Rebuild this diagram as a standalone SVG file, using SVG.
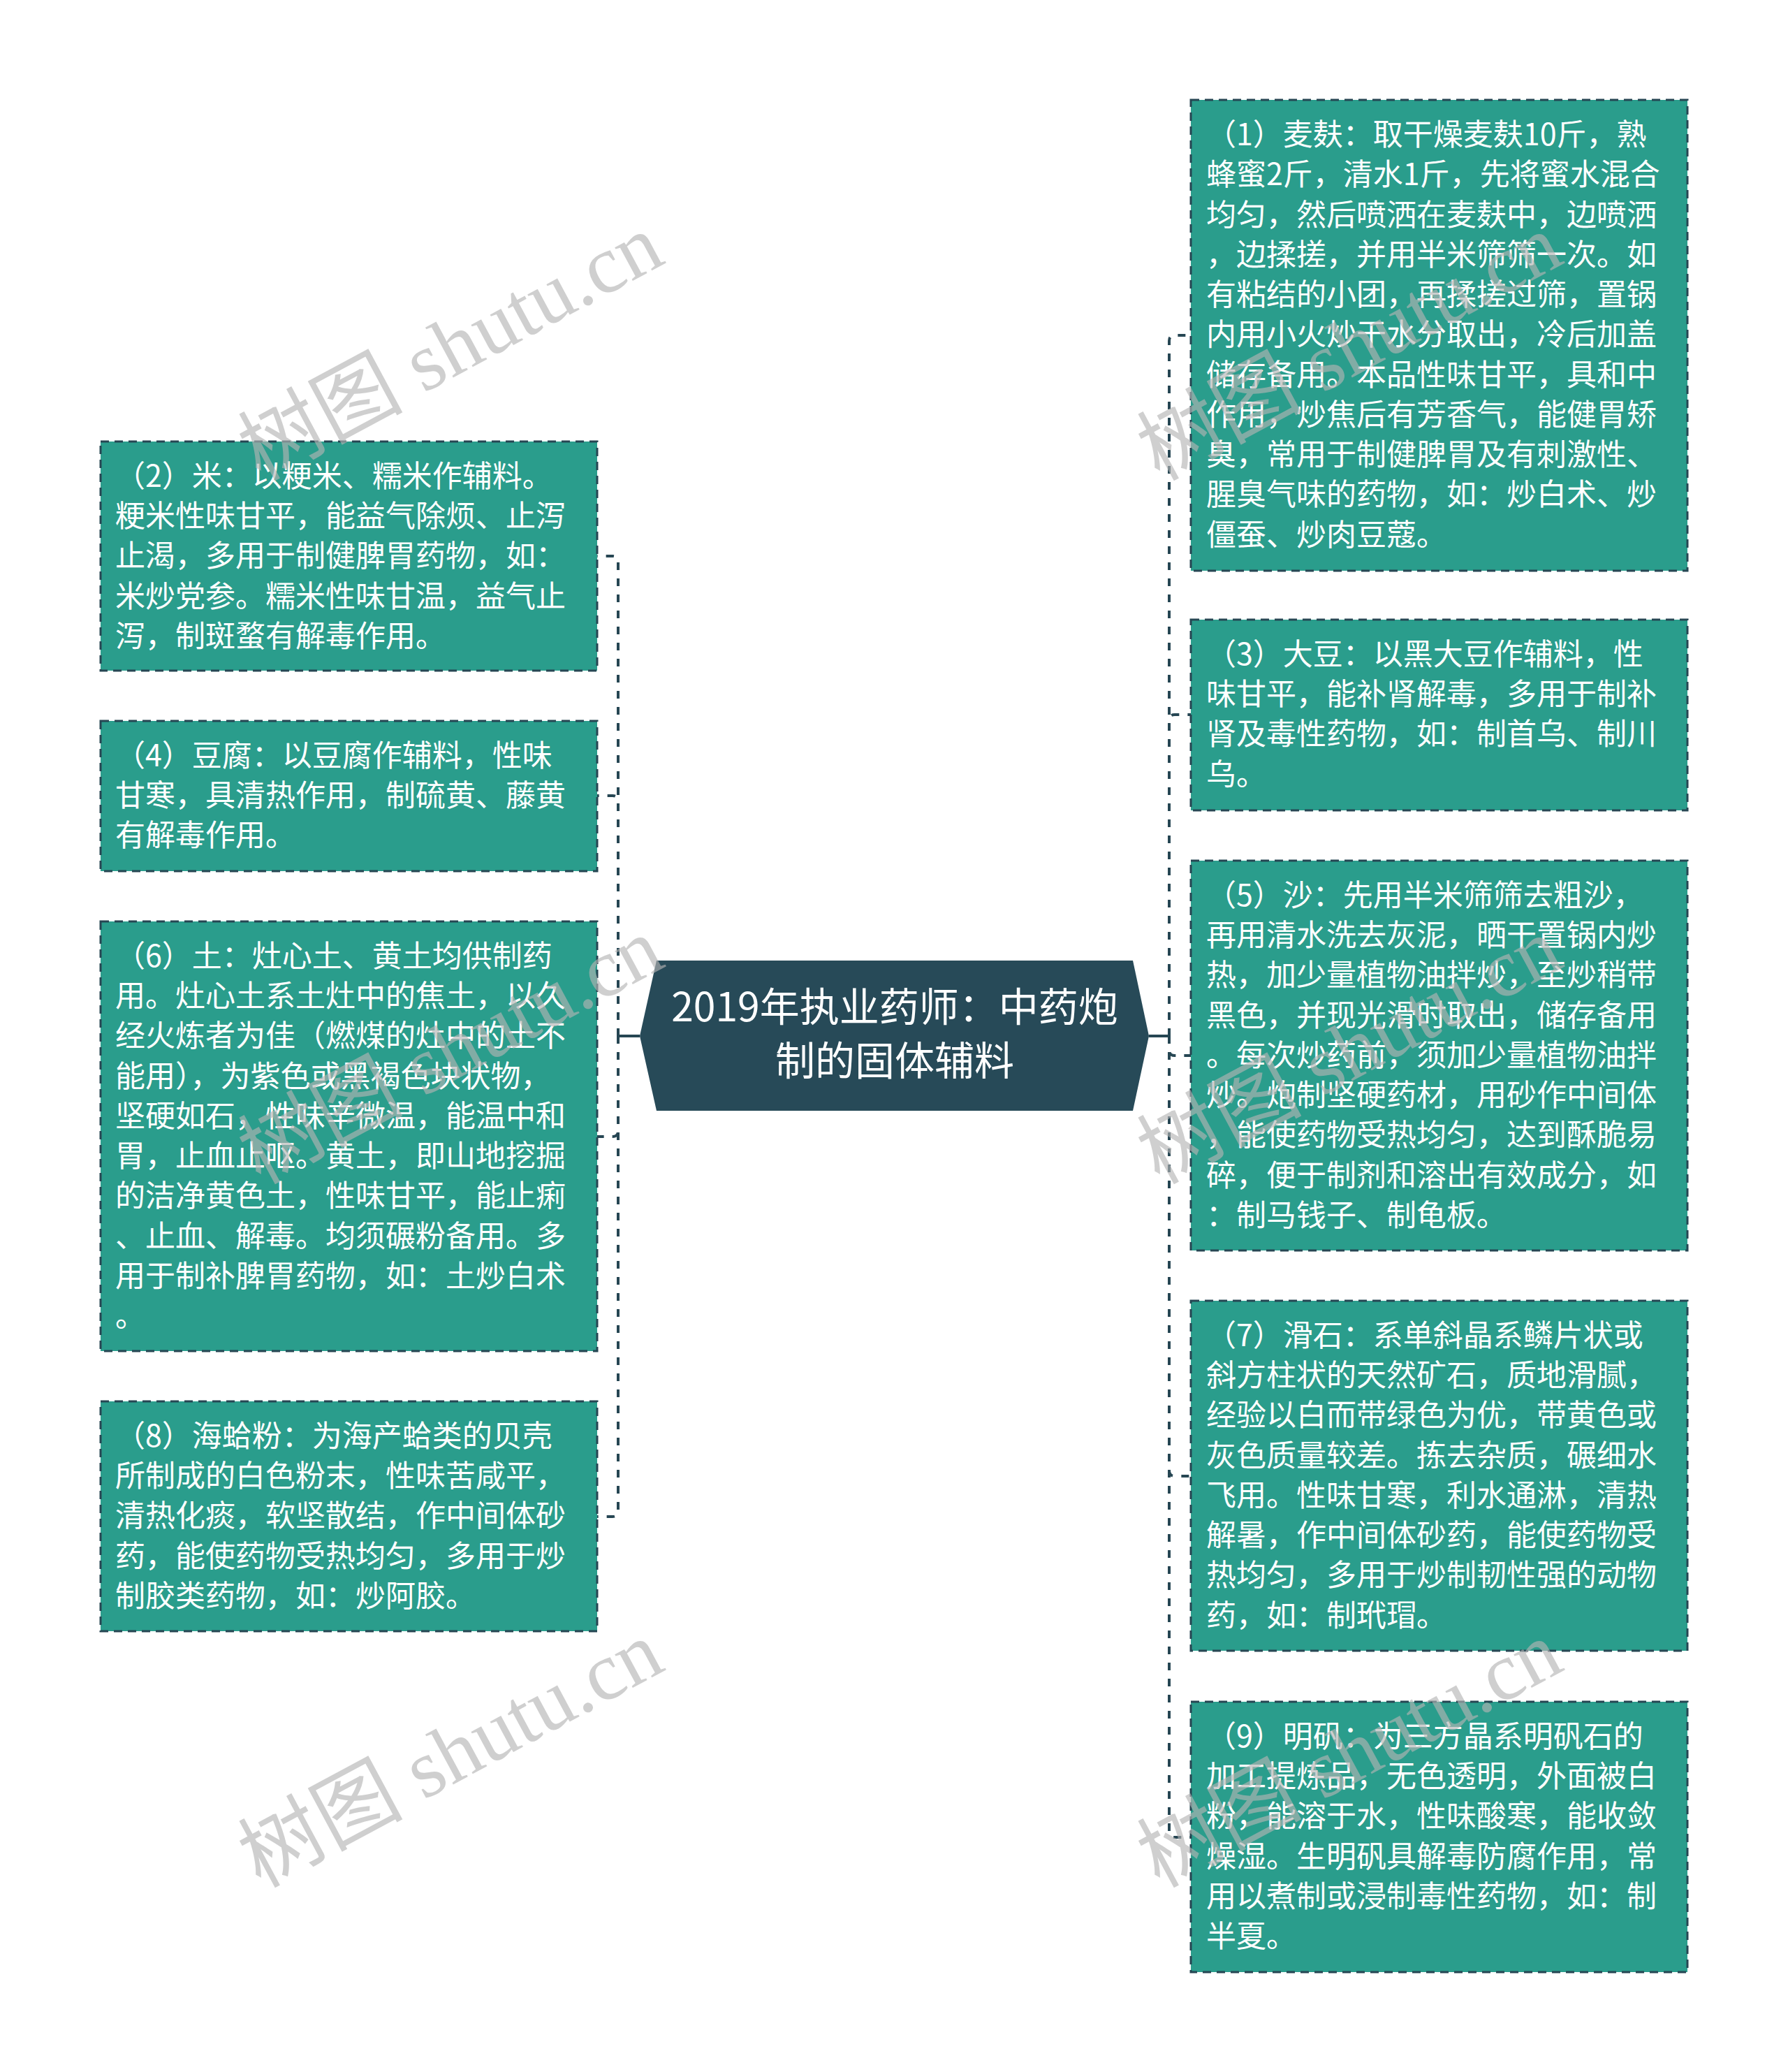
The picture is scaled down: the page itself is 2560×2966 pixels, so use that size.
<svg xmlns="http://www.w3.org/2000/svg" width="2560" height="2966" viewBox="0 0 2560 2966">
<style>
.box{fill:#2a9d8c;stroke:#264653;stroke-width:3;stroke-dasharray:12 8}
.t{font-family:"Noto Sans CJK SC","Noto Sans",sans-serif;font-size:43px;fill:#ffffff}
.ct{font-family:"Noto Sans CJK SC","Noto Sans",sans-serif;font-size:57px;fill:#ffffff;text-anchor:middle}
.ln{fill:none;stroke:#264653;stroke-width:4;stroke-dasharray:11 12}
.sl{fill:none;stroke:#264653;stroke-width:4}
.wm{font-family:"Liberation Serif","Noto Sans CJK SC",serif;font-size:118px;fill:#b4b4b4;fill-opacity:0.64;text-anchor:middle}
</style>
<rect width="2560" height="2966" fill="#ffffff"/>
<g id="connectors">
<path class="sl" d="M916 1483H885M1645 1483H1674"/>
<path class="ln" d="M885 1483V804Q885 796 877 796H855"/>
<path class="ln" d="M885 1483V1147Q885 1139 877 1139H855"/>
<path class="ln" d="M885 1483V1619Q885 1627 877 1627H855"/>
<path class="ln" d="M885 1483V2163Q885 2171 877 2171H855"/>
<path class="ln" d="M1674 1483V488Q1674 480 1682 480H1705"/>
<path class="ln" d="M1674 1483V1031Q1674 1023 1682 1023H1705"/>
<path class="ln" d="M1674 1483V1503Q1674 1511 1682 1511H1705"/>
<path class="ln" d="M1674 1483V2105Q1674 2113 1682 2113H1705"/>
<path class="ln" d="M1674 1483V2622Q1674 2630 1682 2630H1705"/>
</g>
<g id="center">
<polygon points="916,1483 940,1375 1622,1375 1645,1483 1622,1590 940,1590" fill="#274a58"/>
<text class="ct" x="1281" y="1462">2019年执业药师：中药炮</text>
<text class="ct" x="1281" y="1539">制的固体辅料</text>
</g>
<g id="n2">
<rect class="box" x="144" y="632" width="711" height="328"/>
<text class="t" x="165"><tspan x="165" y="697">（2）米：以粳米、糯米作辅料。</tspan><tspan x="165" y="754">粳米性味甘平，能益气除烦、止泻</tspan><tspan x="165" y="811">止渴，多用于制健脾胃药物，如：</tspan><tspan x="165" y="869">米炒党参。糯米性味甘温，益气止</tspan><tspan x="165" y="926">泻，制斑蝥有解毒作用。</tspan></text>
</g>
<g id="n4">
<rect class="box" x="144" y="1032" width="711" height="215"/>
<text class="t"><tspan x="165" y="1097">（4）豆腐：以豆腐作辅料，性味</tspan><tspan x="165" y="1154">甘寒，具清热作用，制硫黄、藤黄</tspan><tspan x="165" y="1211">有解毒作用。</tspan></text>
</g>
<g id="n6">
<rect class="box" x="144" y="1319" width="711" height="615"/>
<text class="t"><tspan x="165" y="1384">（6）土：灶心土、黄土均供制药</tspan><tspan x="165" y="1441">用。灶心土系土灶中的焦土，以久</tspan><tspan x="165" y="1498">经火炼者为佳（燃煤的灶中的土不</tspan><tspan x="165" y="1556">能用），为紫色或黑褐色块状物，</tspan><tspan x="165" y="1613">坚硬如石，性味辛微温，能温中和</tspan><tspan x="165" y="1670">胃，止血止呕。黄土，即山地挖掘</tspan><tspan x="165" y="1727">的洁净黄色土，性味甘平，能止痢</tspan><tspan x="165" y="1785">、止血、解毒。均须碾粉备用。多</tspan><tspan x="165" y="1842">用于制补脾胃药物，如：土炒白术</tspan><tspan x="165" y="1899">。</tspan></text>
</g>
<g id="n8">
<rect class="box" x="144" y="2006" width="711" height="329"/>
<text class="t"><tspan x="165" y="2071">（8）海蛤粉：为海产蛤类的贝壳</tspan><tspan x="165" y="2128">所制成的白色粉末，性味苦咸平，</tspan><tspan x="165" y="2185">清热化痰，软坚散结，作中间体砂</tspan><tspan x="165" y="2243">药，能使药物受热均匀，多用于炒</tspan><tspan x="165" y="2300">制胶类药物，如：炒阿胶。</tspan></text>
</g>
<g id="n1">
<rect class="box" x="1705" y="143" width="711" height="674"/>
<text class="t"><tspan x="1727" y="208">（1）麦麸：取干燥麦麸10斤，熟</tspan><tspan x="1727" y="265">蜂蜜2斤，清水1斤，先将蜜水混合</tspan><tspan x="1727" y="323">均匀，然后喷洒在麦麸中，边喷洒</tspan><tspan x="1727" y="380">，边揉搓，并用半米筛筛一次。如</tspan><tspan x="1727" y="437">有粘结的小团，再揉搓过筛，置锅</tspan><tspan x="1727" y="494">内用小火炒干水分取出，冷后加盖</tspan><tspan x="1727" y="552">储存备用。本品性味甘平，具和中</tspan><tspan x="1727" y="609">作用，炒焦后有芳香气，能健胃矫</tspan><tspan x="1727" y="666">臭，常用于制健脾胃及有刺激性、</tspan><tspan x="1727" y="723">腥臭气味的药物，如：炒白术、炒</tspan><tspan x="1727" y="781">僵蚕、炒肉豆蔻。</tspan></text>
</g>
<g id="n3">
<rect class="box" x="1705" y="887" width="711" height="273"/>
<text class="t"><tspan x="1727" y="952">（3）大豆：以黑大豆作辅料，性</tspan><tspan x="1727" y="1009">味甘平，能补肾解毒，多用于制补</tspan><tspan x="1727" y="1066">肾及毒性药物，如：制首乌、制川</tspan><tspan x="1727" y="1124">乌。</tspan></text>
</g>
<g id="n5">
<rect class="box" x="1705" y="1232" width="711" height="558"/>
<text class="t"><tspan x="1727" y="1297">（5）沙：先用半米筛筛去粗沙，</tspan><tspan x="1727" y="1354">再用清水洗去灰泥，晒干置锅内炒</tspan><tspan x="1727" y="1411">热，加少量植物油拌炒，至炒稍带</tspan><tspan x="1727" y="1469">黑色，并现光滑时取出，储存备用</tspan><tspan x="1727" y="1526">。每次炒药前，须加少量植物油拌</tspan><tspan x="1727" y="1583">炒。炮制坚硬药材，用砂作中间体</tspan><tspan x="1727" y="1640">，能使药物受热均匀，达到酥脆易</tspan><tspan x="1727" y="1698">碎，便于制剂和溶出有效成分，如</tspan><tspan x="1727" y="1755">：制马钱子、制龟板。</tspan></text>
</g>
<g id="n7">
<rect class="box" x="1705" y="1862" width="711" height="501"/>
<text class="t"><tspan x="1727" y="1927">（7）滑石：系单斜晶系鳞片状或</tspan><tspan x="1727" y="1984">斜方柱状的天然矿石，质地滑腻，</tspan><tspan x="1727" y="2041">经验以白而带绿色为优，带黄色或</tspan><tspan x="1727" y="2099">灰色质量较差。拣去杂质，碾细水</tspan><tspan x="1727" y="2156">飞用。性味甘寒，利水通淋，清热</tspan><tspan x="1727" y="2213">解暑，作中间体砂药，能使药物受</tspan><tspan x="1727" y="2270">热均匀，多用于炒制韧性强的动物</tspan><tspan x="1727" y="2328">药，如：制玳瑁。</tspan></text>
</g>
<g id="n9">
<rect class="box" x="1705" y="2436" width="711" height="387"/>
<text class="t"><tspan x="1727" y="2501">（9）明矾：为三方晶系明矾石的</tspan><tspan x="1727" y="2558">加工提炼品，无色透明，外面被白</tspan><tspan x="1727" y="2615">粉，能溶于水，性味酸寒，能收敛</tspan><tspan x="1727" y="2673">燥湿。生明矾具解毒防腐作用，常</tspan><tspan x="1727" y="2730">用以煮制或浸制毒性药物，如：制</tspan><tspan x="1727" y="2787">半夏。</tspan></text>
</g>
<g id="watermarks">
<text class="wm" x="645" y="537" transform="rotate(-28.3 645 497)">树图 shutu.cn</text>
<text class="wm" x="645" y="1544" transform="rotate(-28.3 645 1504)">树图 shutu.cn</text>
<text class="wm" x="645" y="2551" transform="rotate(-28.3 645 2511)">树图 shutu.cn</text>
<text class="wm" x="1932" y="537" transform="rotate(-28.3 1932 497)">树图 shutu.cn</text>
<text class="wm" x="1932" y="1544" transform="rotate(-28.3 1932 1504)">树图 shutu.cn</text>
<text class="wm" x="1932" y="2551" transform="rotate(-28.3 1932 2511)">树图 shutu.cn</text>
</g>
</svg>
